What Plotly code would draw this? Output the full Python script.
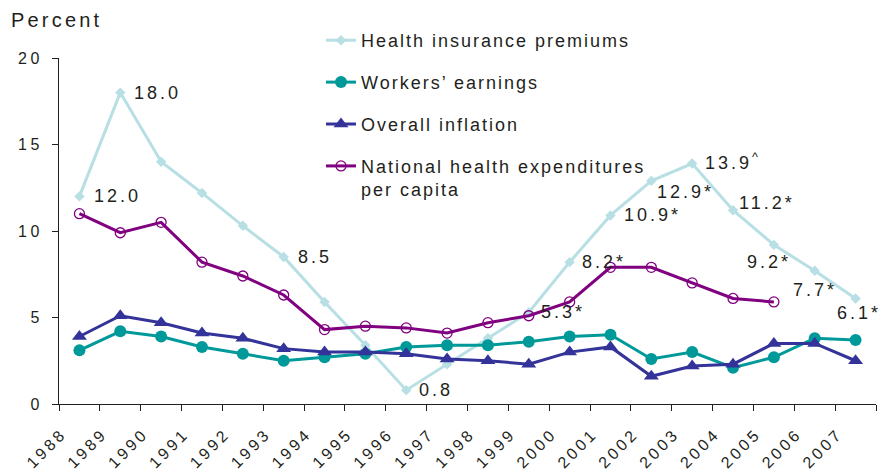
import plotly.graph_objects as go

# ---------------- data ----------------
years = [str(y) for y in range(1988, 2008)]
premiums = [12.0, 18.0, 14.0, 12.2, 10.3, 8.5, 5.9, 3.4, 0.8, 2.3,
            3.8, 5.3, 8.2, 10.9, 12.9, 13.9, 11.2, 9.2, 7.7, 6.1]
earnings = [3.1, 4.2, 3.9, 3.3, 2.9, 2.5, 2.7, 2.9, 3.3, 3.4,
            3.4, 3.6, 3.9, 4.0, 2.6, 3.0, 2.1, 2.7, 3.8, 3.7]
inflation = [3.9, 5.1, 4.7, 4.1, 3.8, 3.2, 3.0, 3.0, 2.9, 2.6,
             2.5, 2.3, 3.0, 3.3, 1.6, 2.2, 2.3, 3.5, 3.5, 2.5]
nhe = [11.0, 9.9, 10.5, 8.2, 7.4, 6.3, 4.3, 4.5, 4.4, 4.1,
       4.7, 5.1, 5.9, 7.9, 7.9, 7.0, 6.1, 5.9, None, None]
premium_labels = ["12.0", "18.0", "", "", "", "8.5", "", "", "0.8", "", "",
                  "5.3*", "8.2*", "10.9*", "12.9*", "13.9", "11.2*", "9.2*", "7.7*", "6.1*"]
premium_label_marks = {15: "^"}
series_names = [["Health insurance premiums"], ["Workers\u2019 earnings"], ["Overall inflation"],
                ["National health expenditures", "per capita"]]
y_ticks = [0, 5, 10, 15, 20]
y_title = "Percent"

# ---------------- style ----------------
FONT = "Liberation Sans, Arial, Helvetica, sans-serif"
TXT = "#231F20"
C_PREM = "#B7DFE4"
C_EARN = "#009999"
C_INFL = "#333399"
C_NHE = "#800080"


def tracked(s, ls):
    """letter-spaced text, like the reference's wide lettering"""
    return '<span style="letter-spacing:%spx">%s</span>' % (ls, s)


def legend_name(lines):
    return "<br>".join(tracked(l, 2.0) for l in lines)


x = list(range(len(years)))

fig = go.Figure()
fig.add_trace(go.Scatter(x=x, y=premiums, name=legend_name(series_names[0]), mode="lines+markers",
                         line=dict(color=C_PREM, width=3),
                         marker=dict(symbol="diamond", size=8, color=C_PREM),
                         legendgroup="a"))
fig.add_trace(go.Scatter(x=x, y=earnings, name=legend_name(series_names[1]), mode="lines+markers",
                         line=dict(color=C_EARN, width=3),
                         marker=dict(symbol="circle", size=12, color=C_EARN),
                         legendgroup="b"))
fig.add_trace(go.Scatter(x=x, y=inflation, name=legend_name(series_names[2]), mode="lines+markers",
                         line=dict(color=C_INFL, width=3),
                         marker=dict(symbol="triangle-up", size=13, color=C_INFL),
                         legendgroup="c"))
fig.add_trace(go.Scatter(x=x, y=nhe, name=legend_name(series_names[3]), mode="lines+markers",
                         line=dict(color=C_NHE, width=3),
                         marker=dict(symbol="circle-open", size=10, color=C_NHE,
                                     line=dict(width=1.3, color=C_NHE)),
                         legendgroup="d"))

# label placement style: (xanchor, xshift, yshift)
label_style = {
    0: ("left", 13, 0), 1: ("left", 12, 0), 5: ("left", 12, 0), 8: ("left", 11, 0),
    11: ("left", 10, 0), 12: ("left", 10, 0), 13: ("left", 12, 0),
    14: ("left", 4, -11), 15: ("left", 11, 2), 16: ("left", 4, 7),
    17: ("center", -5, -17), 18: ("center", 0, -19), 19: ("center", 3, -15),
}
annotations = []
for i, lab in enumerate(premium_labels):
    if not lab:
        continue
    xa, xs, ys = label_style.get(i, ("left", 12, 0))
    txt = tracked(lab, 3.0)
    if i in premium_label_marks:
        txt += "<sup>%s</sup>" % premium_label_marks[i]
    annotations.append(dict(x=x[i], y=premiums[i], xref="x", yref="y", text=txt,
                            showarrow=False, xanchor=xa, yanchor="middle",
                            xshift=xs, yshift=ys,
                            font=dict(family=FONT, size=18, color=TXT)))
annotations.append(dict(x=-0.0575, y=1.109, xref="paper", yref="paper",
                        text=tracked(y_title, 3.2), xshift=-3,
                        showarrow=False, xanchor="left", yanchor="middle",
                        font=dict(family=FONT, size=20, color=TXT)))

fig.update_layout(
    width=881, height=473, autosize=False,
    margin=dict(l=59, r=5, t=58, b=69, autoexpand=False),
    paper_bgcolor="white", plot_bgcolor="white",
    font=dict(family=FONT, size=16, color=TXT),
    showlegend=True,
    legend=dict(x=0.3207, y=1.104, xanchor="left", yanchor="top",
                traceorder="grouped", tracegroupgap=15.5, valign="top",
                bgcolor="rgba(0,0,0,0)", font=dict(family=FONT, size=18, color=TXT)),
    annotations=annotations,
    xaxis=dict(range=[-0.5, len(years) - 0.5],
               tickmode="array",
               tickvals=[i - 0.5 for i in range(len(years))],
               ticktext=[tracked(y, 3.3) for y in years],
               tickangle=-45, ticks="outside", ticklen=6, tickcolor=TXT,
               minor=dict(ticks="outside", ticklen=6, tickcolor=TXT, tick0=-0.5, dtick=1,
                          showgrid=False),
               ticklabelstandoff=7, ticklabelshift=3, automargin=False,
               showline=True, linecolor=TXT, linewidth=1,
               showgrid=False, zeroline=False,
               tickfont=dict(family=FONT, size=16, color=TXT)),
    yaxis=dict(range=[0, 20], tickmode="array", tickvals=y_ticks,
               ticktext=[tracked(str(v), 3.5) for v in y_ticks],
               ticks="outside", ticklen=6, tickcolor=TXT, automargin=False,
               showline=True, linecolor=TXT, linewidth=1,
               showgrid=False, zeroline=False, ticklabelstandoff=6,
               tickfont=dict(family=FONT, size=16, color=TXT)),
)

post = "document.body.style.margin = '0';"
fig.write_html("out.html", post_script=post, config={"displayModeBar": False})
